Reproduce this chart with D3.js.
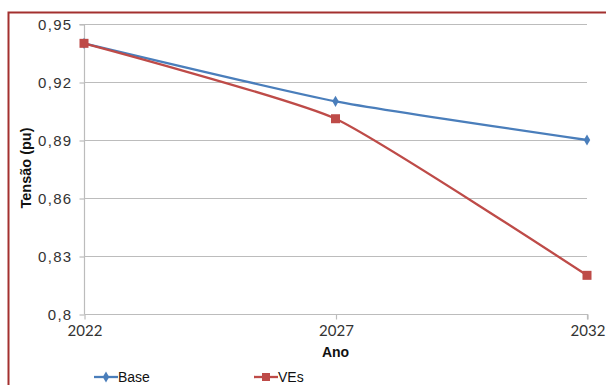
<!DOCTYPE html>
<html>
<head>
<meta charset="utf-8">
<script src="https://cdn.jsdelivr.net/npm/d3@7"></script>
<style>
  html, body { margin: 0; padding: 0; background: #fff; }
  svg { display: block; }
</style>
</head>
<body>
<svg id="chart" width="606" height="385"></svg>
<script>
// Voltage projection per year, two scenarios
const years = [2022, 2027, 2032];
const baseValues = [0.94, 0.91, 0.89];
const veValues = [0.94, 0.901, 0.82];
const yTicks = [0.8, 0.83, 0.86, 0.89, 0.92, 0.95];
const yTickLabels = ["0,8", "0,83", "0,86", "0,89", "0,92", "0,95"];
const seriesNames = ["Base", "VEs"];

const svg = d3.select("#chart");
const W = 606, H = 385;
const m = { left: 84, right: 19, top: 24, bottom: 71 };

// outer frame
svg.append("rect")
  .attr("x", 8.5).attr("y", 12.5)
  .attr("width", W + 10).attr("height", H + 10)
  .attr("fill", "none").attr("stroke", "#a3302f").attr("stroke-width", 2);

const x = d3.scaleLinear().domain([2022, 2032]).range([m.left, W - m.right]);
const y = d3.scaleLinear().domain([0.8, 0.95]).range([H - m.bottom, m.top]);

// horizontal gridlines
svg.append("g")
  .selectAll("line")
  .data(yTicks.slice(1))
  .join("line")
  .attr("x1", m.left).attr("x2", W - m.right)
  .attr("y1", d => y(d) + 0.5).attr("y2", d => y(d) + 0.5)
  .attr("stroke", "#bcbcbc").attr("stroke-width", 1.2);

// y axis
const yAxis = d3.axisLeft(y)
  .tickValues(yTicks)
  .tickFormat((d, i) => yTickLabels[i])
  .tickSize(5)
  .tickPadding(7);
const gy = svg.append("g")
  .attr("transform", `translate(${m.left + 0.5},0.5)`)
  .call(yAxis);
gy.select(".domain").attr("stroke", "#bcbcbc").attr("stroke-width", 1.2).attr("d", `M-5,${y(0.95)}H0V${y(0.8)}`);
gy.selectAll(".tick line").attr("stroke", "#bcbcbc").attr("stroke-width", 1.2);
gy.selectAll(".tick text")
  .attr("font-family", "Liberation Sans, Arial, sans-serif")
  .attr("font-size", 15).attr("letter-spacing", 1.3).attr("fill", "#333");

// x axis
const xAxis = d3.axisBottom(x)
  .tickValues(years)
  .tickFormat(d3.format("d"))
  .tickSize(5)
  .tickPadding(6);
const gx = svg.append("g")
  .attr("transform", `translate(0.5,${y(0.8) + 0.5})`)
  .call(xAxis);
gx.select(".domain").attr("stroke", "#bcbcbc").attr("stroke-width", 1.2).attr("d", `M${m.left},0H${W - m.right}V5`);
gx.selectAll(".tick line").attr("stroke", "#bcbcbc").attr("stroke-width", 1.2);
gx.selectAll(".tick text")
  .attr("font-family", "Lato, Carlito, sans-serif")
  .attr("font-size", 15).attr("fill", "#333");

// axis titles
svg.append("text")
  .attr("x", x(2027)).attr("y", 357)
  .attr("text-anchor", "middle")
  .attr("font-family", "Liberation Sans, Arial, sans-serif")
  .attr("font-weight", "bold").attr("font-size", 14).attr("fill", "#111")
  .text("Ano");
svg.append("text")
  .attr("transform", `translate(31,168) rotate(-90)`)
  .attr("text-anchor", "middle")
  .attr("font-family", "Liberation Sans, Arial, sans-serif")
  .attr("font-weight", "bold").attr("font-size", 14.5).attr("fill", "#111")
  .text("Tensão (pu)");

const colors = ["#4a7ebb", "#be4b48"];
const line = d3.line()
  .x((d, i) => x(years[i]))
  .y(d => y(d))
  .curve(d3.curveCardinal.tension(0.5));

[baseValues, veValues].forEach((vals, k) => {
  svg.append("path")
    .datum(vals)
    .attr("d", line)
    .attr("fill", "none")
    .attr("stroke", colors[k])
    .attr("stroke-width", 2.3);
});

// markers: diamonds for Base, squares for VEs
const diamond = d3.symbol().type(d3.symbolDiamond).size(36);
svg.append("g").selectAll("path")
  .data(baseValues)
  .join("path")
  .attr("transform", (d, i) => `translate(${x(years[i])},${y(d)})`)
  .attr("d", diamond)
  .attr("fill", colors[0]);
svg.append("g").selectAll("rect")
  .data(veValues)
  .join("rect")
  .attr("x", (d, i) => x(years[i]) - 4.5)
  .attr("y", d => y(d) - 4.5)
  .attr("width", 9).attr("height", 9)
  .attr("fill", colors[1]);

// legend
const legendX = [94, 254];
const lg = svg.append("g");
seriesNames.forEach((name, k) => {
  const g = lg.append("g").attr("transform", `translate(${legendX[k]},377)`);
  g.append("line").attr("x1", 0).attr("x2", 24).attr("y1", 0).attr("y2", 0)
    .attr("stroke", colors[k]).attr("stroke-width", 2.3);
  if (k === 0) {
    g.append("path").attr("transform", "translate(12,0)").attr("d", diamond).attr("fill", colors[k]);
  } else {
    g.append("rect").attr("x", 8).attr("y", -4).attr("width", 8).attr("height", 8).attr("fill", colors[k]);
  }
  g.append("text").attr("x", 24).attr("y", 5)
    .attr("font-family", "Liberation Sans, Arial, sans-serif")
    .attr("font-size", 14).attr("fill", "#111")
    .text(name);
});
</script>
</body>
</html>
